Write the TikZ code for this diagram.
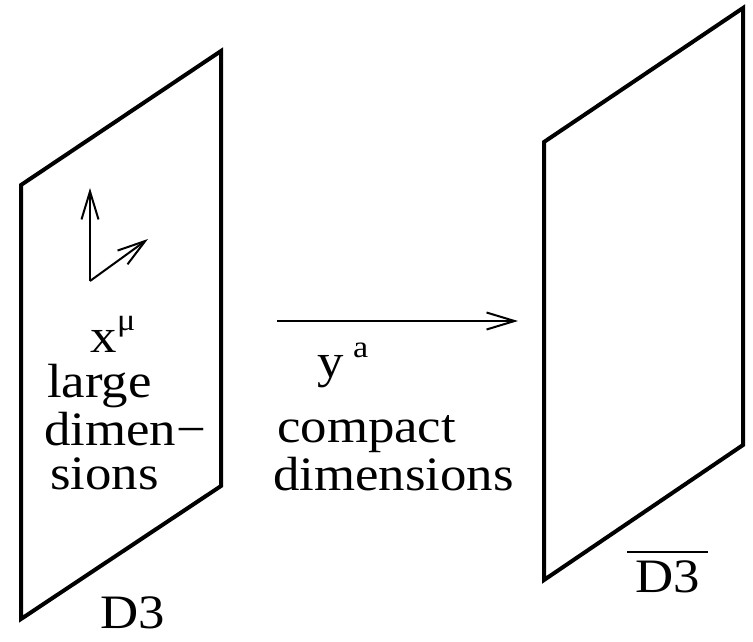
\documentclass[tikz,border=0pt]{standalone}
\usepackage{fontspec}
\setmainfont{Liberation Serif}[FakeStretch=1.1]
\usetikzlibrary{arrows.meta}
\begin{document}
\begin{tikzpicture}[x=1pt,y=-1pt,
  panel/.style={line width=4pt,line join=miter},
  arr/.style={line width=2pt,-{Straight Barb[length=28pt,width=17pt,line width=2pt]}},
  lbl/.style={anchor=base west,inner sep=0pt,font=\fontsize{48}{48}\selectfont},
  sup/.style={anchor=base west,inner sep=0pt,font=\fontsize{31}{31}\selectfont}]
\useasboundingbox (0,0) rectangle (753,641);
% left panel
\coordinate (l1) at (21,185);
\coordinate (l2) at (221,51);
\coordinate (l3) at (221,486);
\coordinate (l4) at (21,619);
\draw[panel] (l1) -- (l2) -- (l3) -- (l4) -- cycle;
% right panel
\coordinate (r1) at (544,142);
\coordinate (r2) at (743,8);
\coordinate (r3) at (743,445);
\coordinate (r4) at (544,580);
\draw[panel] (r1) -- (r2) -- (r3) -- (r4) -- cycle;
% small axes
\coordinate (o) at (90,281);
\coordinate (ua) at (90,188);
\coordinate (da) at (148,239);
\draw[arr] (o) -- (ua);
\draw[arr] (o) -- (da);
% labels left
\node[lbl] (xm) at (90,352) {x};
\node[sup] (mu) at (117,330) {μ};
\node[lbl] (large) at (47,397) {large};
\node[lbl] (dimen) at (44,445) {dimen−};
\node[lbl] (sions) at (50,489) {sions};
\node[lbl] (d3) at (100,628) {D3};
% main arrow
\coordinate (a1) at (277,321);
\coordinate (a2) at (518,321);
\draw[arr] (a1) -- (a2);
\node[lbl] (ya) at (317,377) {y};
\node[sup] (aa) at (353,357) {a};
\node[lbl] (compact) at (277,442) {compact};
\node[lbl] (dims) at (273,490) {dimensions};
% right label
\node[lbl] (d3b) at (635,592) {D3};
\draw[line width=1.5pt] (627,552) -- (708,552);
\end{tikzpicture}
\end{document}
